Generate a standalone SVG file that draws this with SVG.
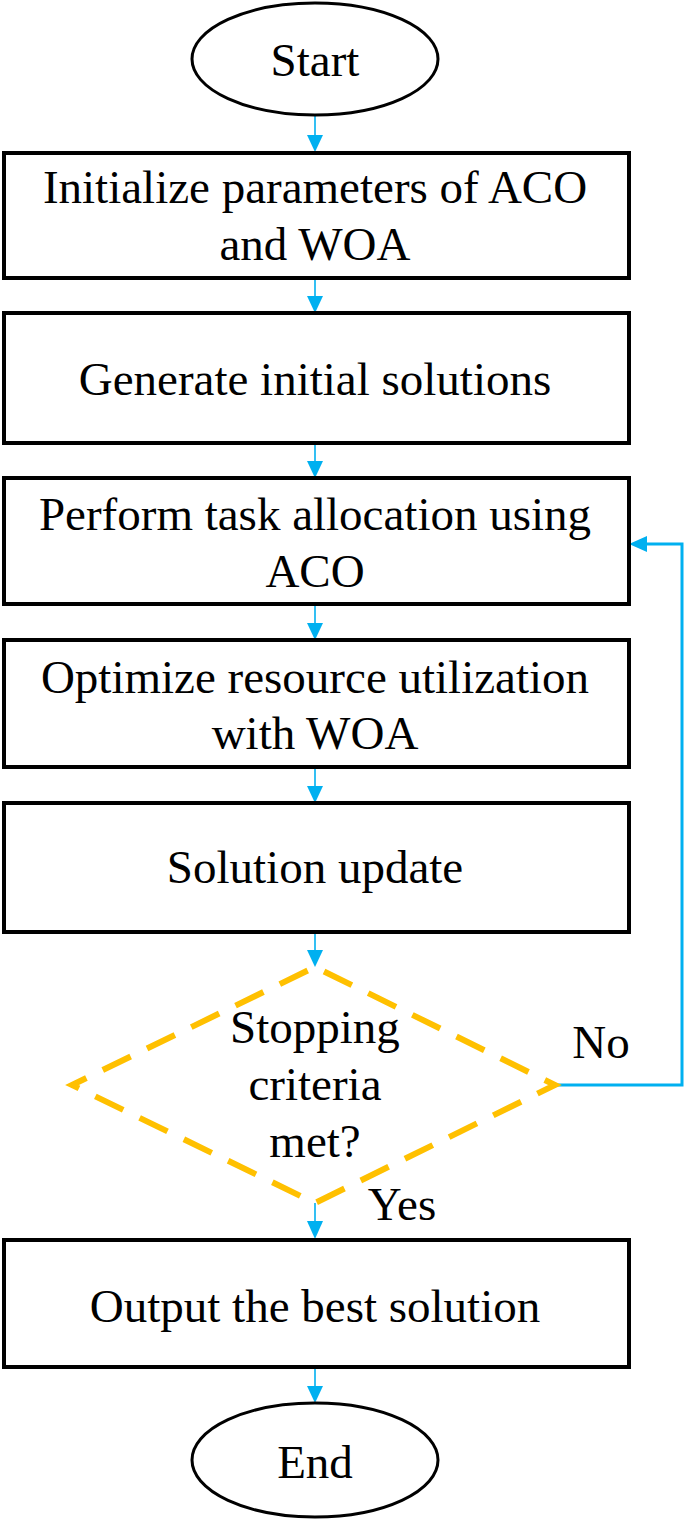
<svg xmlns="http://www.w3.org/2000/svg" width="685" height="1523" viewBox="0 0 685 1523">
<style>
.box{fill:#fff;stroke:#000;stroke-width:4}
.term{fill:#fff;stroke:#000;stroke-width:3}
.t{font-family:"Liberation Serif","Times New Roman",serif;font-size:47px;fill:#000;text-anchor:middle}
.c{fill:none;stroke:#00B0F0;stroke-width:1.6}
.loop{fill:none;stroke:#00B0F0;stroke-width:3}
.dia{fill:#fff;stroke:#FFC000;stroke-width:6;stroke-dasharray:31 18.2;stroke-dashoffset:15}
.ah{fill:#00B0F0}
</style>
<g id="connectors">
<line class="c" x1="315" y1="115" x2="315" y2="136"/><path class="ah" d="M307,135 L323,135 L315,152 Z"/>
<line class="c" x1="315" y1="278" x2="315" y2="297"/><path class="ah" d="M307,296 L323,296 L315,313 Z"/>
<line class="c" x1="315" y1="443" x2="315" y2="462"/><path class="ah" d="M307,461 L323,461 L315,478 Z"/>
<line class="c" x1="315" y1="604" x2="315" y2="624"/><path class="ah" d="M307,623 L323,623 L315,640 Z"/>
<line class="c" x1="315" y1="767" x2="315" y2="787"/><path class="ah" d="M307,786 L323,786 L315,803 Z"/>
<line class="c" x1="315" y1="932" x2="315" y2="951"/><path class="ah" d="M307,950 L323,950 L315,967 Z"/>
<line class="c" x1="315" y1="1203" x2="315" y2="1222"/><path class="ah" d="M307,1221 L323,1221 L315,1239 Z"/>
<line class="c" x1="315" y1="1367" x2="315" y2="1387"/><path class="ah" d="M307,1386 L323,1386 L315,1403 Z"/>
<polyline class="loop" points="555,1085 682,1085 682,544 645,544"/>
<path class="ah" d="M647,536 L647,552 L629,544 Z"/>
</g>
<g id="start">
<ellipse class="term" cx="315" cy="59" rx="123" ry="56"/>
<text class="t" x="315" y="76">Start</text>
</g>
<g id="init">
<rect class="box" x="4" y="153" width="625" height="125"/>
<text class="t" x="315" y="203">Initialize parameters of ACO</text>
<text class="t" x="315" y="260">and WOA</text>
</g>
<g id="generate">
<rect class="box" x="4" y="313" width="625" height="130"/>
<text class="t" x="315" y="395">Generate initial solutions</text>
</g>
<g id="perform">
<rect class="box" x="4" y="478" width="625" height="126"/>
<text class="t" x="315" y="530">Perform task allocation using</text>
<text class="t" x="315" y="587">ACO</text>
</g>
<g id="optimize">
<rect class="box" x="4" y="640" width="625" height="127"/>
<text class="t" x="315" y="693">Optimize resource utilization</text>
<text class="t" x="315" y="749">with WOA</text>
</g>
<g id="update">
<rect class="box" x="4" y="803" width="625" height="129"/>
<text class="t" x="315" y="883">Solution update</text>
</g>
<g id="decision">
<polygon class="dia" points="72,1085 315,967 555,1085 315,1203"/>
<text class="t" x="315" y="1043">Stopping</text>
<text class="t" x="315" y="1100">criteria</text>
<text class="t" x="315" y="1157">met?</text>
<text class="t" x="601" y="1058">No</text>
<text class="t" x="402" y="1220">Yes</text>
</g>
<g id="output">
<rect class="box" x="4" y="1240" width="625" height="127"/>
<text class="t" x="315" y="1322">Output the best solution</text>
</g>
<g id="end">
<ellipse class="term" cx="315" cy="1460" rx="123" ry="57"/>
<text class="t" x="315" y="1478">End</text>
</g>
</svg>
